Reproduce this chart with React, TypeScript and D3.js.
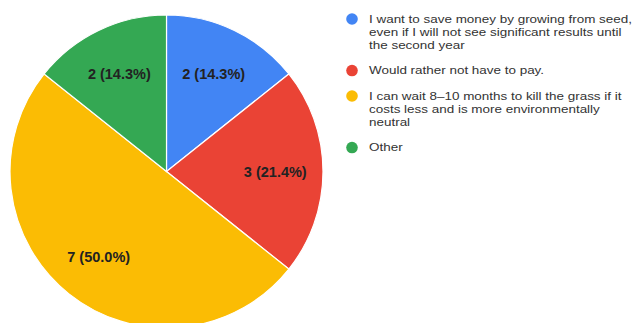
import React from "react";
import * as d3 from "d3";

const categories = [
  "I want to save money by growing from seed,\neven if I will not see significant results until\nthe second year",
  "Would rather not have to pay.",
  "I can wait 8–10 months to kill the grass if it\ncosts less and is more environmentally\nneutral",
  "Other",
];
const counts = [2, 3, 7, 2];
const colors = ["#4285f4", "#ea4335", "#fbbc04", "#34a853"];

const W = 634;
const H = 323;
const CX = 166.5;
const CY = 171.5;
const R = 156.5;
const FONT = "'Liberation Sans', Arial, sans-serif";
const LEGEND_FONT_SIZE = 11.7;
const LEGEND_STRETCH = 1.15;

export default function App() {
  const total = d3.sum(counts);
  const pie = d3.pie<number>().sort(null).value((d) => d);
  const arcs = pie(counts);
  const arc = d3.arc<d3.PieArcDatum<number>>().innerRadius(0).outerRadius(R);
  const labelArc = d3
    .arc<d3.PieArcDatum<number>>()
    .innerRadius(R * 0.695)
    .outerRadius(R * 0.695);

  const lineH = 13.05;
  const legendItems: { lines: string[]; y: number }[] = [];
  let y = 19;
  categories.forEach((c) => {
    const lines = c.split("\n");
    legendItems.push({ lines, y });
    y += lines.length * lineH + 12.4;
  });

  return (
    <svg
      width={W}
      height={H}
      style={{ position: "absolute", left: 0, top: 0, display: "block", background: "#fff" }}
      fontFamily={FONT}
    >
      <g transform={`translate(${CX},${CY})`}>
        {arcs.map((a, i) => (
          <path key={i} d={arc(a)!} fill={colors[i]} stroke="#fff" strokeWidth={1.2} />
        ))}
        {arcs.map((a, i) => {
          const [x, yy] = labelArc.centroid(a);
          const pct = ((counts[i] / total) * 100).toFixed(1);
          return (
            <text
              key={i}
              x={x}
              y={yy}
              textAnchor="middle"
              dominantBaseline="central"
              fontSize={14.5}
              fontWeight="bold"
              fill="#222"
            >
              {`${counts[i]} (${pct}%)`}
            </text>
          );
        })}
      </g>
      <g>
        {legendItems.map((it, i) => (
          <g key={i}>
            <circle cx={352} cy={it.y} r={5.8} fill={colors[i]} />
            <text
              fontSize={LEGEND_FONT_SIZE}
              fill="#333"
              transform={`translate(369,0) scale(${LEGEND_STRETCH},1)`}
            >
              {it.lines.map((l, j) => (
                <tspan key={j} x={0} y={it.y + j * lineH} dominantBaseline="central">
                  {l}
                </tspan>
              ))}
            </text>
          </g>
        ))}
      </g>
    </svg>
  );
}
